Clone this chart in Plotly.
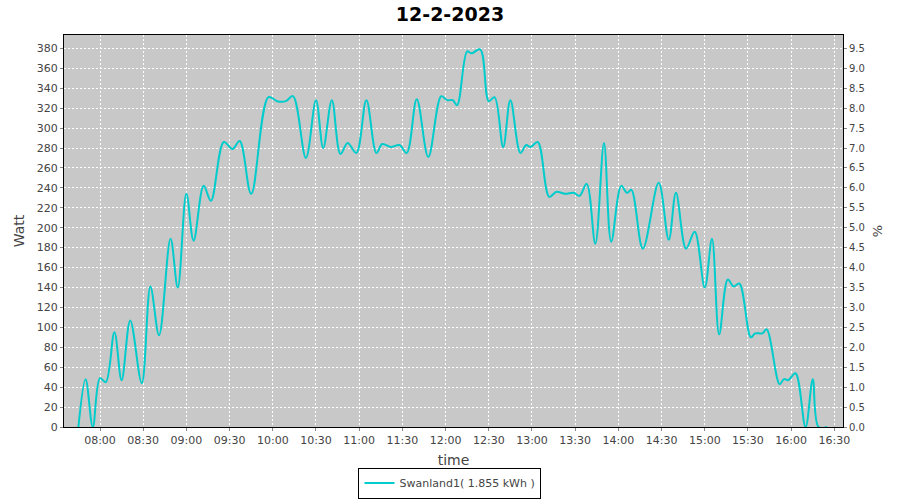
import plotly.graph_objects as go

times = ["07:45","07:50","07:55","08:00","08:04","08:10","08:15","08:21","08:29","08:35",
         "08:41","08:49","08:54","09:00","09:05","09:12","09:17","09:26","09:32","09:37",
         "09:45","09:57","10:03","10:09","10:14","10:23","10:30","10:35","10:41","10:47",
         "10:52","10:58","11:05","11:12","11:16","11:22","11:28","11:33","11:40","11:48",
         "11:57","12:01","12:05","12:08","12:15","12:18","12:24","12:30","12:34","12:40",
         "12:45","12:52","12:56","12:59","13:04","13:12","13:17","13:23","13:29","13:33",
         "13:38","13:44","13:50","13:55","14:02","14:06","14:09","14:17","14:28","14:35",
         "14:40","14:47","14:53","15:00","15:05","15:10","15:16","15:20","15:24","15:32",
         "15:35","15:40","15:43","15:52","15:55","15:58","16:03","16:10","16:15","16:19","16:25"]
watt = [0,48,0,49,45,95,47,107,44,141,
        92,189,140,234,187,242,227,286,279,287,
        234,331,327,327,332,270,328,280,328,274,
        285,275,328,275,284,281,283,275,329,271,
        332,328,328,323,377,375,379,327,331,281,
        328,275,283,281,286,231,236,234,235,232,
        244,184,285,186,242,235,238,179,245,188,
        235,179,196,140,189,93,148,141,144,90,
        94,94,98,43,48,47,54,0,48,0,0]

date = "2023-02-12"
x = [f"{date} {t}" for t in times]
pct = [w / 40.0 for w in watt]
series_name = "Swanland1( 1.855 kWh )"
title_text = "12-2-2023"

line_color = "rgb(0,204,204)"
tick_font = dict(family="DejaVu Sans", size=11, color="#444444")
grid = dict(showgrid=True, gridcolor="white", griddash="2px,2px", gridwidth=1)

fig = go.Figure()
fig.add_trace(go.Scatter(x=x, y=watt, mode="lines", name=series_name,
                         line=dict(color=line_color, width=2, shape="spline", smoothing=1.0)))
fig.add_trace(go.Scatter(x=x, y=pct, mode="lines", yaxis="y2", showlegend=False,
                         hoverinfo="skip", line=dict(color="rgba(0,0,0,0)", width=0)))

fig.update_layout(
    width=900, height=500,
    margin=dict(l=64, r=57, t=35, b=73, autoexpand=False),
    paper_bgcolor="white", plot_bgcolor="rgb(200,200,200)",
    title=dict(text="<b>" + title_text + "</b>", x=0.5, xanchor="center", y=0.972, yanchor="middle",
               font=dict(family="DejaVu Sans", size=19, color="black")),
    xaxis=dict(type="date", range=[f"{date} 07:35", f"{date} 16:36"], automargin=False,
               tick0=f"{date} 08:00", dtick=1800000, tickformat="%H:%M",
               tickfont=tick_font, ticks="outside", ticklen=3, tickcolor="#888888",
               showline=True, linecolor="black", linewidth=1, mirror=True,
               title=dict(text="time", font=dict(family="DejaVu Sans", size=14, color="#444444"), standoff=8),
               zeroline=False, **grid),
    yaxis=dict(range=[0, 393.4], tick0=0, dtick=20, tickfont=tick_font, automargin=False,
               ticks="outside", ticklen=3, tickcolor="#888888",
               showline=True, linecolor="black", linewidth=1, mirror=True,
               title=dict(text="Watt", font=dict(family="DejaVu Sans", size=14, color="#444444"), standoff=8),
               zeroline=False, **grid),
    yaxis2=dict(overlaying="y", side="right", range=[0, 9.835], tick0=0, dtick=0.5, automargin=False,
                tickformat=".1f", tickfont=dict(family="DejaVu Sans", size=10, color="#444444"),
                ticks="outside", ticklen=3, tickcolor="#888888", showgrid=False, zeroline=False,
                showline=True, linecolor="black",
                title=dict(text="%", font=dict(family="DejaVu Sans", size=13, color="#444444"), standoff=8)),
    legend=dict(orientation="h", x=0.4955, xanchor="center", y=-0.1824, yanchor="bottom",
                bgcolor="white", bordercolor="black", borderwidth=1,
                font=dict(family="DejaVu Sans", size=11, color="#444444"),
                itemwidth=30, tracegroupgap=0),
    showlegend=True,
)

fig.write_html("out.html", post_script="document.body.style.margin='0';",
               config={"displayModeBar": False})
